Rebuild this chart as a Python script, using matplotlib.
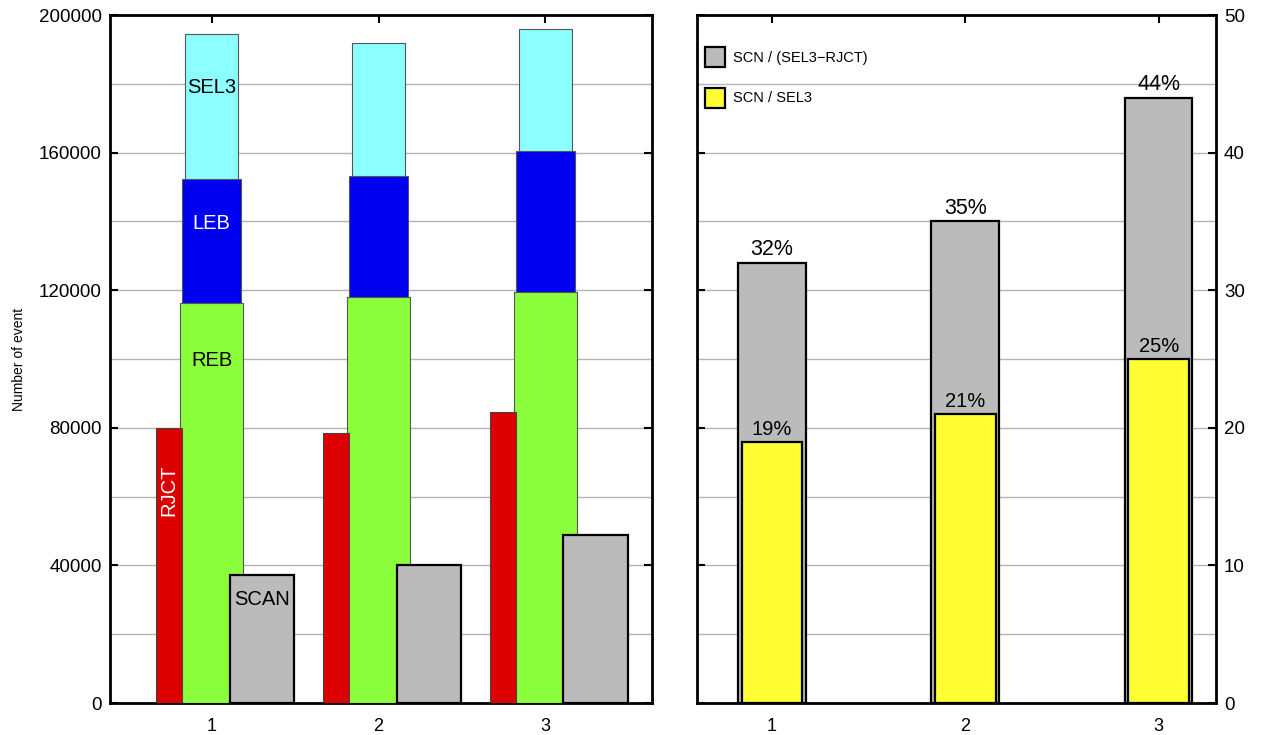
import matplotlib
matplotlib.use("Agg")
import matplotlib.pyplot as plt
import numpy as np

plt.rcParams['font.family'] = ['Liberation Sans', 'DejaVu Sans']

groups = [1, 2, 3]
rjct = [80000, 78500, 84600]
reb = [116300, 118000, 119500]
leb = [152300, 153200, 160500]
sel3 = [194500, 191900, 195900]
scan = [37200, 40100, 48800]

ratio_rjct = [32, 35, 44]
ratio_sel3 = [19, 21, 25]
ratio_labels_rjct = ['32%', '35%', '44%']
ratio_labels_sel3 = ['19%', '21%', '25%']

c_cyan = '#8cffff'
c_blue = '#0000f0'
c_green = '#8cff3c'
c_red = '#dd0000'
c_gray = '#bbbbbb'
c_yellow = '#ffff33'

fig = plt.figure(figsize=(12.65, 7.35), dpi=100)
ax1 = fig.add_axes([0.087, 0.0435, 0.4285, 0.936])
ax2 = fig.add_axes([0.551, 0.0435, 0.410, 0.936])

x = np.array(groups, dtype=float)

# left panel: event counts
ax1.bar(x, sel3, width=0.32, color=c_cyan, edgecolor='#555555', linewidth=0.8, zorder=3)
ax1.bar(x, leb, width=0.355, color=c_blue, edgecolor='#555555', linewidth=0.8, zorder=3)
ax1.bar(x, reb, width=0.38, color=c_green, edgecolor='#555555', linewidth=0.8, zorder=3)
ax1.bar(x - 0.255, rjct, width=0.155, color=c_red, edgecolor='#444444', linewidth=0.8, zorder=4)
ax1.bar(x + 0.3, scan, width=0.385, color=c_gray, edgecolor='black', linewidth=1.6, zorder=4)

ax1.text(1, 179000, 'SEL3', ha='center', va='center', fontsize=14.5, zorder=5)
ax1.text(1, 139500, 'LEB', ha='center', va='center', fontsize=14.5, color='white', zorder=5)
ax1.text(1, 99700, 'REB', ha='center', va='center', fontsize=14.5, zorder=5)
ax1.text(1 - 0.255, 62000, 'RJCT', ha='center', va='center', fontsize=14.5,
         color='white', rotation=90, zorder=5)
ax1.text(1 + 0.3, 30000, 'SCAN', ha='center', va='center', fontsize=14.5, zorder=5)

ax1.set_xlim(0.39, 3.64)
ax1.set_ylim(0, 200000)
ax1.set_xticks(groups)
ax1.set_yticks(np.arange(0, 200001, 40000))
ax1.set_yticks(np.arange(0, 200001, 20000), minor=True)
ax1.yaxis.grid(True, which='both', color='#b4b4b4', linewidth=1, zorder=0)
ax1.set_axisbelow(True)
ax1.set_ylabel('Number of event', fontsize=10, labelpad=9)

# right panel: ratios
ax2.bar(x, ratio_rjct, width=0.35, color=c_gray, edgecolor='black', linewidth=1.6,
        zorder=3, label='SCN / (SEL3\u2212RJCT)')
ax2.bar(x, ratio_sel3, width=0.315, color=c_yellow, edgecolor='black', linewidth=1.6,
        zorder=4, label='SCN / SEL3')
for xi, v, s in zip(x, ratio_rjct, ratio_labels_rjct):
    ax2.text(xi, v + 0.2, s, ha='center', va='bottom', fontsize=15.5, zorder=5)
for xi, v, s in zip(x, ratio_sel3, ratio_labels_sel3):
    ax2.text(xi, v + 0.2, s, ha='center', va='bottom', fontsize=14.5, zorder=5)

ax2.set_xlim(0.612, 3.295)
ax2.set_ylim(0, 50)
ax2.set_xticks(groups)
ax2.set_yticks(np.arange(0, 51, 10))
ax2.set_yticks(np.arange(0, 51, 5), minor=True)
ax2.yaxis.grid(True, which='both', color='#b4b4b4', linewidth=1, zorder=0)
ax2.set_axisbelow(True)
ax2.yaxis.tick_right()
ax2.legend(loc='upper left', frameon=False, fontsize=10.5, handlelength=1.35,
           handleheight=1.7, labelspacing=1.45, borderaxespad=0.0,
           handletextpad=0.6, bbox_to_anchor=(0.004, 0.962))

for ax in (ax1, ax2):
    for sp in ax.spines.values():
        sp.set_linewidth(2)
    ax.tick_params(which='major', direction='in', length=6, width=1.5,
                   top=True, bottom=True, left=True, right=True, labelsize=13.5, pad=6)
    ax.tick_params(which='minor', length=0)
    ax.tick_params(axis='x', labelsize=13, pad=11)
ax2.tick_params(labelleft=False, labelright=True)

fig.savefig('out.png', dpi=100)
